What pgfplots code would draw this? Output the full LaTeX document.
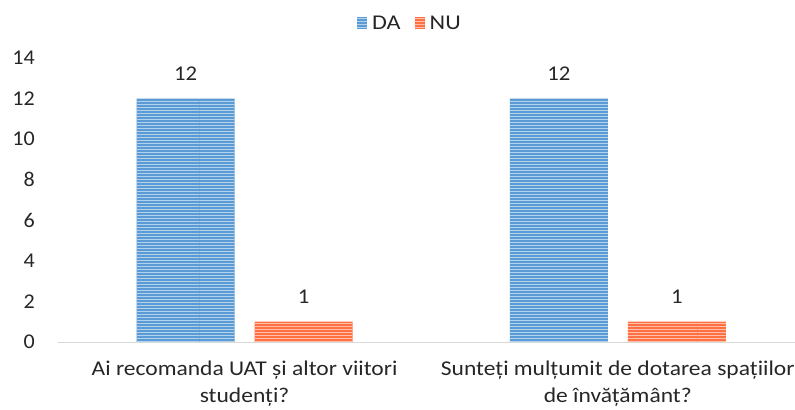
\documentclass[border=0pt]{standalone}
\usepackage{pgfplots}
\pgfplotsset{compat=1.18}
\usetikzlibrary{patterns}
\usepackage{fontspec}
\setmainfont{Carlito}
\definecolor{blu}{HTML}{5B9BD5}
\definecolor{org}{HTML}{FF7043}
\definecolor{txt}{HTML}{262626}
\definecolor{axl}{HTML}{D9D9D9}
\begin{document}
\fontsize{21bp}{27bp}\selectfont
\begin{tikzpicture}[font=\fontsize{21bp}{27bp}\selectfont]
\useasboundingbox (0,0) rectangle (795bp,410bp);
\begin{axis}[
  at={(58bp,68bp)}, anchor=south west,
  scale only axis, width=737bp, height=284bp,
  xmin=-0.5, xmax=1.475, ymin=0, ymax=14,
  ytick={0,2,...,14},
  xtick={0,1},
  xticklabels={{Ai recomanda UAT și altor viitori\\studenți?},{Sunteți mulțumit de dotarea spațiilor\\de învățământ?}},
  xticklabel style={align=center, text=txt, yshift=-12bp, font=\addfontfeature{FakeStretch=1.12}},
  yticklabel style={text=txt, xshift=-16bp, font=\addfontfeature{FakeStretch=1.05}},
  /pgf/number format/assume math mode=true,
  axis x line*=bottom, axis y line*=left,
  x axis line style={draw=axl, line width=1bp, -},
  y axis line style={draw=none},
  major tick length=0pt,
  ybar=20bp, bar width=98bp,
  nodes near coords,
  every node near coord/.append style={text=txt, yshift=11bp, font=\addfontfeature{FakeStretch=1.08}},
  legend style={at={(0.4776,1.12)}, anchor=center, draw=none, fill=none, legend columns=2, /tikz/every even column/.append style={column sep=12bp}, text=txt, font=\addfontfeature{FakeStretch=1.15}},
  legend image code/.code={\fill[#1] (0bp,-5bp) rectangle (10bp,7bp); \path (13bp,0bp);},
]
\addplot[fill=blu, draw=none, postaction={pattern=horizontal lines, pattern color=white!55!blu}] coordinates {(0,12) (1,12)};
\addplot[fill=org, draw=none, postaction={pattern=horizontal lines, pattern color=white!55!org}] coordinates {(0,1) (1,1)};
\legend{DA,NU}
\end{axis}
\end{tikzpicture}
\end{document}
